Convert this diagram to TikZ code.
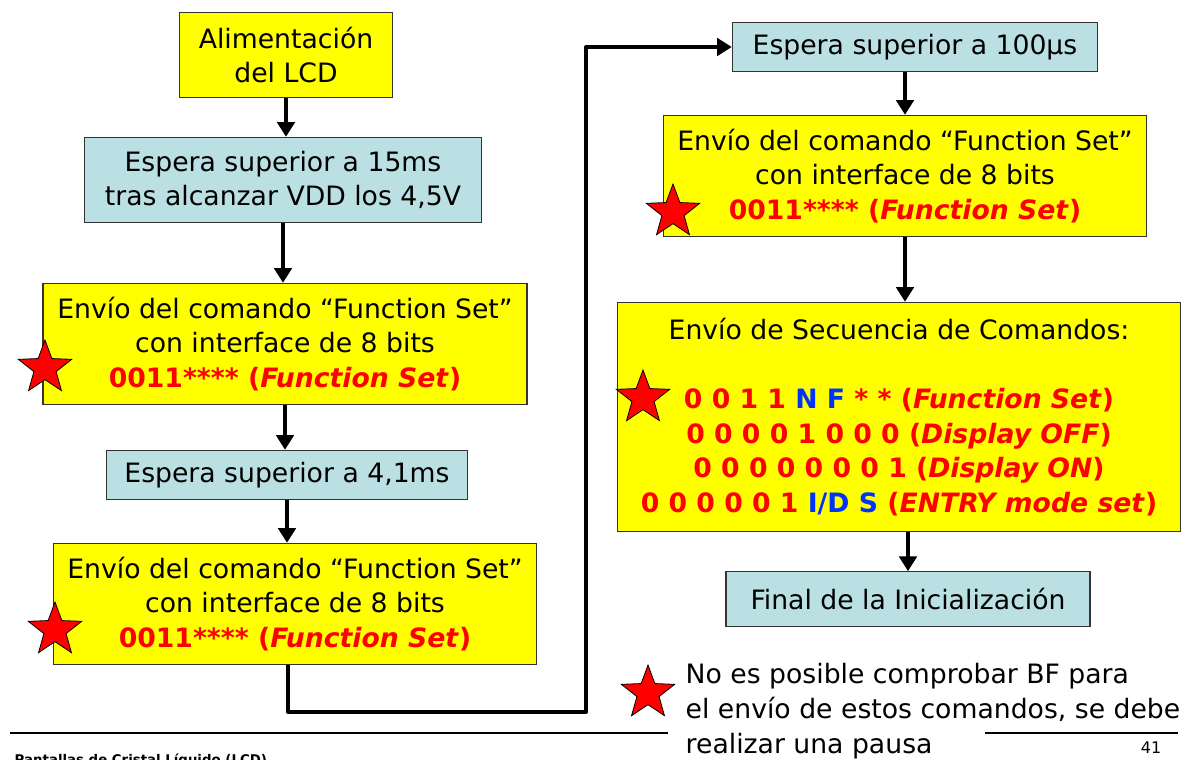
\documentclass[tikz,border=0pt]{standalone}
\usepackage{fontspec}
\setmainfont{DejaVu Sans}
\usepackage{tikz}
\usetikzlibrary{shapes.geometric,arrows.meta,positioning}

\definecolor{boxyellow}{RGB}{255,255,0}
\definecolor{boxblue}{RGB}{187,224,227}
\definecolor{codered}{RGB}{255,0,0}
\definecolor{codeblue}{RGB}{0,51,255}

\tikzset{
  yellowbox/.style={draw=black!80,line width=0.8pt,fill=boxyellow,align=center,inner sep=0pt},
  bluebox/.style={draw=black!80,line width=0.8pt,fill=boxblue,align=center,inner sep=0pt},
  flow/.style={line width=3pt,-{Triangle[width=13pt,length=11pt]}},
  redstar/.style={star,star points=5,star point ratio=2.4,fill=codered,draw=black,line width=0.6pt,minimum size=42pt,inner sep=0pt}
}
\newcommand{\red}[1]{\textcolor{codered}{\textbf{#1}}}
\newcommand{\redit}[1]{\textcolor{codered}{\textbf{\textit{#1}}}}
\newcommand{\blu}[1]{\textcolor{codeblue}{\textbf{#1}}}

\begin{document}
\begin{tikzpicture}[x=0.75pt,y=-0.75pt,font=\fontsize{20}{26}\selectfont]
\useasboundingbox (0,0) rectangle (1189,760);

% left column
\node[yellowbox,minimum width=160pt,minimum height=64pt] (alim) at (286,55) {Alimentación\\del LCD};
\node[bluebox,minimum width=298pt,minimum height=64pt] (wait15) at (283,180) {Espera superior a 15ms\\tras alcanzar VDD los 4,5V};
\node[yellowbox,minimum width=363pt,minimum height=91pt] (fsa) at (285,344)
  {Envío del comando “Function Set”\\con interface de 8 bits\\\red{0011**** (}\redit{Function Set}\red{)}};
\node[bluebox,minimum width=271pt,minimum height=37pt] (wait41) at (287,475) {Espera superior a 4,1ms};
\node[yellowbox,minimum width=362pt,minimum height=91pt] (fsb) at (295,604)
  {Envío del comando “Function Set”\\con interface de 8 bits\\\red{0011**** (}\redit{Function Set}\red{)}};

% right column
\node[bluebox,minimum width=274pt,minimum height=37pt] (wait100) at (915,47) {Espera superior a 100μs};
\node[yellowbox,minimum width=362pt,minimum height=91pt] (fsc) at (905,176)
  {Envío del comando “Function Set”\\con interface de 8 bits\\\red{0011**** (}\redit{Function Set}\red{)}};
\node[yellowbox,minimum width=422pt,minimum height=172pt] (seq) at (899,417)
  {Envío de Secuencia de Comandos:\\[26pt]
   \red{0 0 1 1 }\blu{N F}\red{ * * (}\redit{Function Set}\red{)}\\
   \red{0 0 0 0 1 0 0 0 (}\redit{Display OFF}\red{)}\\
   \red{0 0 0 0 0 0 0 1 (}\redit{Display ON}\red{)}\\
   \red{0 0 0 0 0 1 }\blu{I/D S}\red{ (}\redit{ENTRY mode set}\red{)}};
\node[bluebox,minimum width=273pt,minimum height=41pt] (fin) at (908,599) {Final de la Inicialización};

% stars
\node[redstar] (stara) at (45,368) {};
\node[redstar] (starb) at (55,630) {};
\node[redstar] (starc) at (673,212) {};
\node[redstar] (stard) at (643,398) {};
\node[redstar] (starkey) at (648,693) {};

% connectors
\draw[flow] (alim.south) -- (alim.south |- wait15.north);
\draw[flow] (wait15.south) -- (wait15.south |- fsa.north);
\draw[flow] (fsa.south) -- (fsa.south |- wait41.north);
\draw[flow] (wait41.south) -- (wait41.south |- fsb.north);
\coordinate (down) at (288,712);
\coordinate (up) at (586,712);
\draw[flow,line join=round]
  (down |- fsb.south) -- (down) -- (up) |- (wait100.west);
\draw[flow] (fsc.north |- wait100.south) -- (fsc.north);
\draw[flow] (fsc.south) -- (fsc.south |- seq.north);
\draw[flow] (fin.north |- seq.south) -- (fin.north);

% note and footer
\node[align=left,anchor=north west] (note) at (681,659)
  {No es posible comprobar BF para\\el envío de estos comandos, se debe\\realizar una pausa};
\coordinate (la) at (10,733);
\coordinate (lb) at (668,733);
\coordinate (lc) at (985,733);
\coordinate (ld) at (1178,733);
\draw[line width=2pt] (la) -- (lb);
\draw[line width=2pt] (lc) -- (ld);
\node[anchor=north west,font=\fontsize{10}{12}\selectfont\bfseries] (title) at (10,749) {Pantallas de Cristal Líquido (LCD)};
\node[font=\fontsize{12}{14}\selectfont] (page) at (1151,748) {41};
\end{tikzpicture}
\end{document}
